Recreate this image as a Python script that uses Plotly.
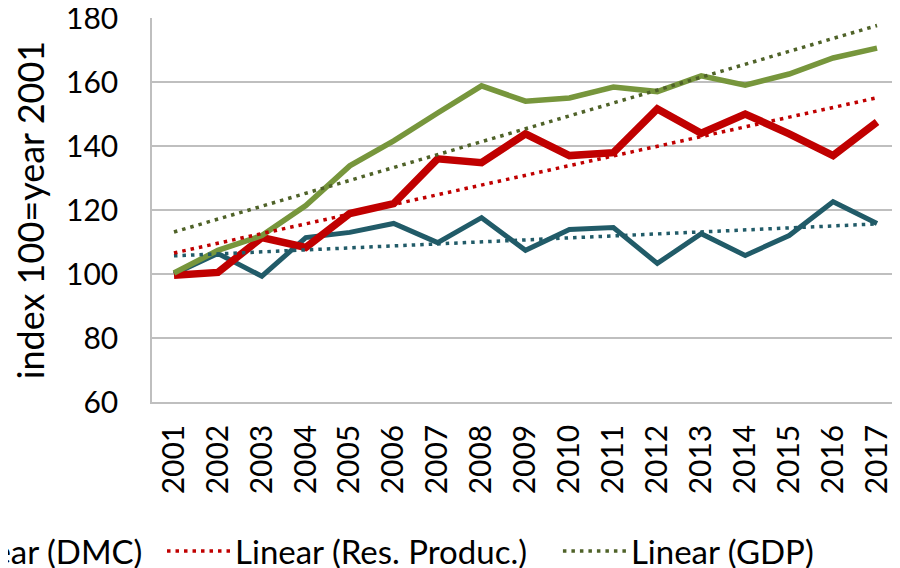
import numpy as np
import plotly.graph_objects as go

years = [str(y) for y in range(2001, 2018)]
dmc = [100.0, 106.4, 99.3, 111.4, 113.0, 115.8, 109.8, 117.6, 107.4, 113.9, 114.5, 103.3, 112.6, 105.8, 112.0, 122.6, 115.8]
res_produc = [99.6, 100.5, 111.4, 108.3, 118.9, 122.0, 136.0, 134.8, 143.8, 137.0, 137.9, 151.6, 144.0, 150.0, 143.8, 137.0, 147.5]
gdp = [100.3, 107.4, 112.0, 121.4, 133.8, 141.6, 150.3, 158.8, 154.0, 155.0, 158.4, 157.0, 161.9, 159.0, 162.5, 167.5, 170.6]
y_ticks = [60, 80, 100, 120, 140, 160, 180]

FONT = "Lato"
C_DMC = "#215B68"
C_RES = "#C00000"
C_GDP = "#77963C"
C_GDP_T = "#4F6228"


def linear_trend(values):
    xs = np.arange(len(values))
    slope, intercept = np.polyfit(xs, values, 1)
    return list(intercept + slope * xs)


fig = go.Figure()
fig.add_trace(go.Scatter(x=years, y=dmc, mode="lines", name="DMC",
                         line=dict(color=C_DMC, width=5), showlegend=False))
fig.add_trace(go.Scatter(x=years, y=res_produc, mode="lines", name="Res. Produc.",
                         line=dict(color=C_RES, width=7.5), showlegend=False))
fig.add_trace(go.Scatter(x=years, y=gdp, mode="lines", name="GDP",
                         line=dict(color=C_GDP, width=5.5), showlegend=False))

dot = "3.5px,5px"
fig.add_trace(go.Scatter(x=years, y=linear_trend(dmc), mode="lines", name="Linear (DMC)",
                         line=dict(color=C_DMC, width=3.5, dash=dot), legend="legend"))
fig.add_trace(go.Scatter(x=years, y=linear_trend(res_produc), mode="lines", name="Linear (Res. Produc.)",
                         line=dict(color=C_RES, width=3.5, dash=dot), legend="legend2"))
fig.add_trace(go.Scatter(x=years, y=linear_trend(gdp), mode="lines", name="Linear (GDP)",
                         line=dict(color=C_GDP_T, width=3.5, dash=dot), legend="legend3"))

leg = dict(orientation="h", xanchor="left", y=-0.315, yanchor="top",
           font=dict(size=33, family=FONT, color="black"), itemwidth=63,
           bgcolor="rgba(0,0,0,0)")

fig.update_layout(
    width=892, height=560,
    margin=dict(l=144, r=1, t=10, b=166, autoexpand=False),
    paper_bgcolor="white", plot_bgcolor="white",
    font=dict(family=FONT, size=30, color="black"),
    legend=dict(leg, x=-0.368),
    legend2=dict(leg, x=0.0134),
    legend3=dict(leg, x=0.5434),
)
fig.update_xaxes(type="category", tickangle=-90, range=[-0.5, 16.5], automargin=False,
                 showline=True, linecolor="#BFBFBF", linewidth=1.5,
                 showgrid=False, ticks="", ticklabelstandoff=9, ticklabeloverflow="allow",
                 tickfont=dict(size=30, family=FONT, color="black"))
fig.update_yaxes(range=[60, 180], tickvals=y_ticks, ticktext=[str(v) for v in y_ticks],
                 automargin=False, ticklabeloverflow="allow",
                 showline=True, linecolor="#BFBFBF", linewidth=1.5,
                 showgrid=True, gridcolor="#BFBFBF", gridwidth=1.5, zeroline=False,
                 ticks="", ticklabelstandoff=26,
                 tickfont=dict(size=30, family=FONT, color="black"),
                 title=dict(text="index 100=year 2001", standoff=18,
                            font=dict(size=36, family=FONT, color="black")))

fig.write_html("out.html")
